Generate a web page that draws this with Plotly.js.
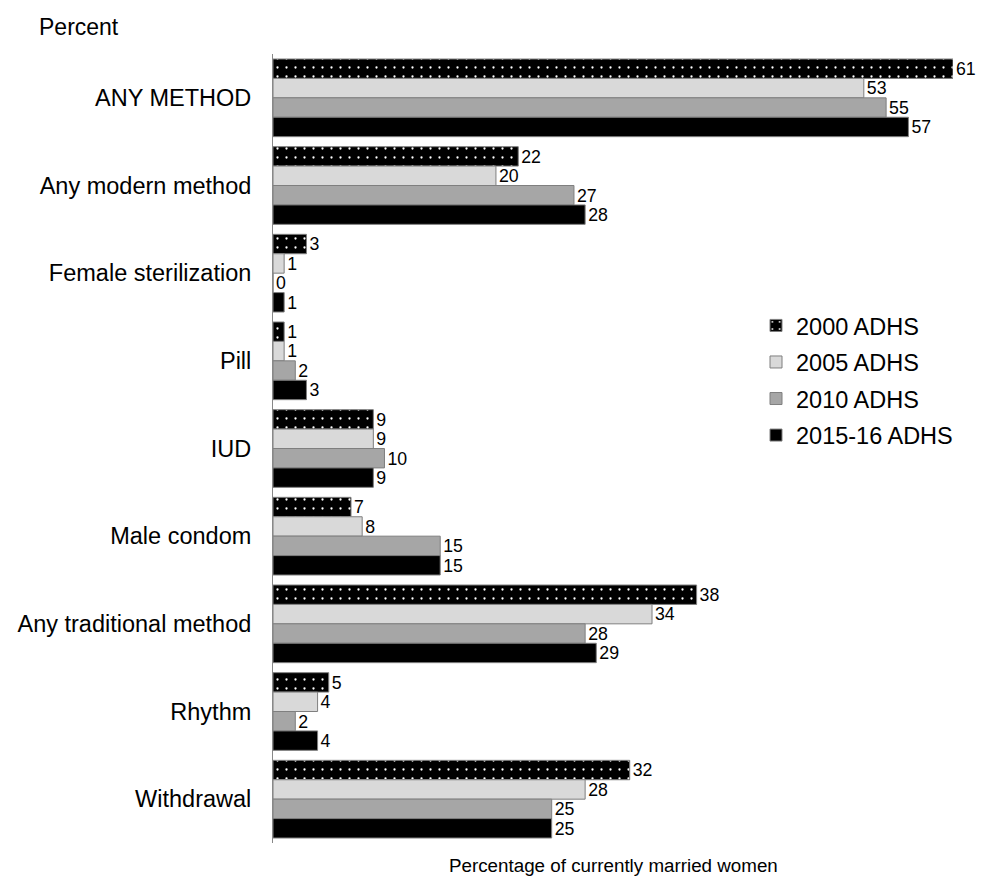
<!DOCTYPE html>
<html>
<head>
<meta charset="utf-8">
<script src="https://cdn.plot.ly/plotly-3.0.1.min.js"></script>
<style>html,body{margin:0;padding:0;background:#fff;}#chart{width:984px;height:879px;}</style>
</head>
<body>
<div id="chart"></div>
<script>
const categories = ["ANY METHOD","Any modern method","Female sterilization","Pill","IUD","Male condom","Any traditional method","Rhythm","Withdrawal"];
const seriesNames = ["2000 ADHS","2005 ADHS","2010 ADHS","2015-16 ADHS"];
const v2000 = [61,22,3,1,9,7,38,5,32];
const v2005 = [53,20,1,1,9,8,34,4,28];
const v2010 = [55,27,0,2,10,15,28,2,25];
const v2015 = [57,28,1,3,9,15,29,4,25];
const allValues = [v2000,v2005,v2010,v2015];
const fills = ["#000000","#d9d9d9","#a6a6a6","#000000"];
const FONT = "Liberation Sans, Arial, sans-serif";

const traces = allValues.map((vals,i)=>{
  const marker = {color: fills[i], line:{color:"#7f7f7f", width:1}};
  if(i===0){
    marker.pattern = {shape:".", bgcolor:"#000000", fgcolor:"#ffffff", size:9, solidity:0.05, fillmode:"replace"};
  }
  return {
    type:"bar", orientation:"h", name: seriesNames[i], legendgroup:"g"+i,
    x: vals, y: categories,
    marker: marker,
    text: vals.map(String), textposition:"outside", cliponaxis:false,
    textfont:{family:FONT, size:21, color:"#000"},
    hoverinfo:"none"
  };
});

const layout = {
  width:984, height:879,
  margin:{l:273, r:31, t:54, b:36},
  barmode:"group", bargap:0.114, bargroupgap:0,
  paper_bgcolor:"#fff", plot_bgcolor:"#fff",
  font:{family:FONT, size:23.5, color:"#000"},
  xaxis:{range:[0,61], showgrid:false, zeroline:false, showline:false, showticklabels:false, ticks:"", automargin:false},
  yaxis:{autorange:"reversed", showgrid:false, zeroline:false, showline:true, linecolor:"#888", linewidth:1,
    ticks:"", ticklabelstandoff:16, tickfont:{size:23.5}, automargin:false},
  legend:{x:0.7103, y:0.586, xanchor:"left", yanchor:"middle", font:{size:23.5}, tracegroupgap:3, itemwidth:30, bgcolor:"rgba(0,0,0,0)"},
  annotations:[
    {text:"Percent", xref:"paper", yref:"paper", x:-0.347, y:1.0, yshift:27, xanchor:"left", yanchor:"middle", showarrow:false, font:{size:23}},
    {text:"Percentage of currently married women", xref:"paper", yref:"paper", x:0.5, y:0, yshift:-22, xanchor:"center", yanchor:"middle", showarrow:false, font:{size:18.8}}
  ]
};

Plotly.newPlot("chart", traces, layout, {staticPlot:true, displayModeBar:false});
</script>
</body>
</html>
